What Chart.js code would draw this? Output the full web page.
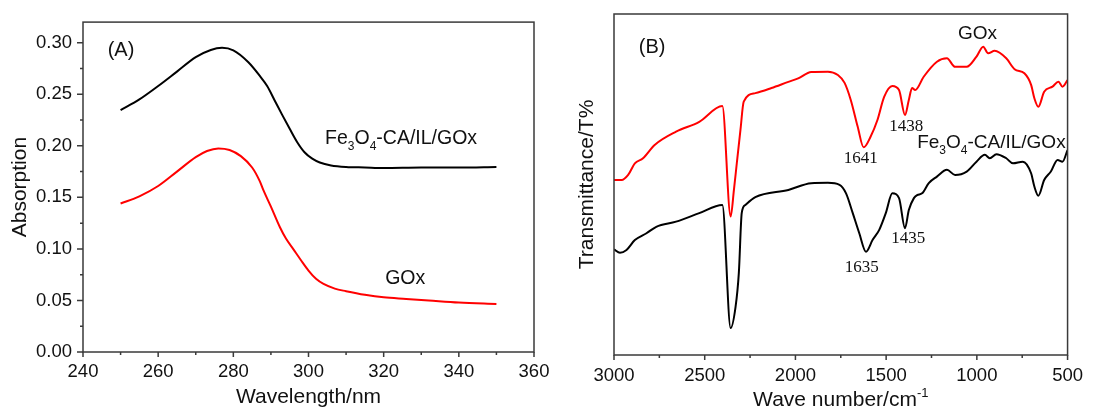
<!DOCTYPE html>
<html><head><meta charset="utf-8">
<script src="https://cdn.jsdelivr.net/npm/chart.js@4.4.1/dist/chart.umd.min.js"></script>
<style>
html,body{margin:0;padding:0;background:#fff;width:1093px;height:410px;overflow:hidden}
#wa{position:absolute;left:0;top:0;width:560px;height:410px}
#wb{position:absolute;left:560px;top:0;width:533px;height:410px}
</style></head><body>
<div id="wa"><canvas id="ca"></canvas></div>
<div id="wb"><canvas id="cb"></canvas></div>
<script>
// ---------- Panel (A): UV-vis ----------
const uvBlackWl  = [250,255,260,265,270,274,277,280,284,287,289,291,293,295,297,299,301,303,306,310,315,320,330,340,350];
const uvBlackAbs = [0.2346,0.245,0.258,0.272,0.286,0.293,0.295,0.2925,0.281,0.268,0.258,0.244,0.230,0.2165,0.2035,0.1935,0.1875,0.1838,0.181,0.1795,0.179,0.1785,0.179,0.179,0.1795];
const uvRedWl    = [250,255,260,265,270,273,276,279,282,285,287,288,290,292.4,294,296,298,300,302,304,307,310,315,320,326,332,340,350];
const uvRedAbs   = [0.144,0.151,0.161,0.175,0.189,0.195,0.1975,0.196,0.190,0.179,0.166,0.157,0.141,0.121,0.110,0.0995,0.089,0.079,0.071,0.066,0.0615,0.059,0.0555,0.053,0.0515,0.050,0.048,0.0466];
const uvXTicks = [240,260,280,300,320,340,360];
const uvXMinor = [250,270,290,310,330,350];
const uvYTicks = [0,0.05,0.10,0.15,0.20,0.25,0.30];
const uvYMinor = [0.025,0.075,0.125,0.175,0.225,0.275];

// ---------- Panel (B): FTIR ----------
const irRedWn = [3000,2958,2922,2885,2840,2776,2658,2530,2403,2357,2339,2323,2303,2285,2221,2132,2039,1985,1913,1821,1766,1729,1695,1657,1624,1586,1548,1511,1466,1429,1396,1375,1357,1340,1293,1220,1165,1120,1056,1002,965,938,902,838,792,738,701,683,661,629,583,550,528,500];
const irRedT  = [51.3,51.3,52.8,56.2,57.7,61.6,65.5,68.4,73.0,40.6,48.4,56.3,66.0,74.3,76.8,78.3,80.1,81.1,83.0,83.1,82.1,79.8,74.8,67.0,60.9,64.0,68.9,75.7,78.9,77.7,70.4,74.8,78.3,77.7,81.6,86.0,87.0,84.5,84.5,87.5,90.4,88.5,89.2,87.0,83.8,82.6,79.2,75.3,72.8,77.2,78.7,80.1,78.7,80.6];
const irBlackWn = [3000,2967,2931,2885,2821,2767,2658,2530,2403,2357,2330,2312,2296,2276,2221,2039,1913,1821,1757,1721,1684,1648,1611,1575,1538,1502,1466,1429,1396,1375,1347,1329,1302,1265,1220,1165,1120,1056,1002,956,929,892,838,801,747,701,683,661,629,592,555,528,500];
const irBlackT  = [31.0,30.0,30.8,33.7,35.7,37.6,39.1,41.6,44.0,7.9,14.1,24.0,41.6,44.0,46.3,48.4,50.4,50.5,49.9,47.4,41.6,35.7,30.3,33.7,36.7,41.6,47.4,46.0,37.2,42.5,46.0,46.9,47.4,50.4,52.3,54.3,52.8,53.8,56.7,58.7,57.7,58.9,57.7,56.2,56.7,53.3,49.4,46.7,51.3,53.8,57.2,56.7,60.1];
const irXTicks = [3000,2500,2000,1500,1000,500];
const irXMinor = [2750,2250,1750,1250,750];

const pts = (xs, ys) => xs.map((x, i) => ({x: x, y: ys[i]}));

const FRAME = '#3a3a3a';
const TXT = '#111';
const SANS = '"Liberation Sans", Arial, sans-serif';
const SERIF = '"Liberation Serif", "Times New Roman", serif';

function drawRich(ctx, parts, x, y, size, align, family) {
  ctx.save();
  ctx.fillStyle = TXT; ctx.textBaseline = 'alphabetic'; ctx.textAlign = 'left';
  const fontFor = p => (p.sub || p.sup ? Math.round(size * 0.62) : size) + 'px ' + (family || SANS);
  let w = 0;
  parts.forEach(p => { ctx.font = fontFor(p); w += ctx.measureText(p.t).width; });
  let cx = align === 'center' ? x - w / 2 : (align === 'right' ? x - w : x);
  parts.forEach(p => {
    ctx.font = fontFor(p);
    const dy = p.sub ? size * 0.3 : (p.sup ? -size * 0.45 : 0);
    ctx.fillText(p.t, cx, y + dy);
    cx += ctx.measureText(p.t).width;
  });
  ctx.restore();
}

const FE = [{t:'Fe'},{t:'3',sub:true},{t:'O'},{t:'4',sub:true},{t:'-CA/IL/GOx'}];

function decor(cfg) {
  return {
    id: 'decor',
    afterDraw(chart) {
      const ctx = chart.ctx, a = chart.chartArea, sx = chart.scales.x, sy = chart.scales.y;
      ctx.save();
      ctx.strokeStyle = FRAME; ctx.lineWidth = 1.5;
      ctx.strokeRect(a.left, a.top, a.right - a.left, a.bottom - a.top);
      ctx.beginPath();
      cfg.xMajor.forEach(v => { const p = sx.getPixelForValue(v); ctx.moveTo(p, a.bottom); ctx.lineTo(p, a.bottom + 5); });
      cfg.xMinor.forEach(v => { const p = sx.getPixelForValue(v); ctx.moveTo(p, a.bottom); ctx.lineTo(p, a.bottom + 3); });
      (cfg.yMajor || []).forEach(v => { const p = sy.getPixelForValue(v); ctx.moveTo(a.left, p); ctx.lineTo(a.left - 6, p); });
      (cfg.yMinor || []).forEach(v => { const p = sy.getPixelForValue(v); ctx.moveTo(a.left, p); ctx.lineTo(a.left - 3, p); });
      ctx.stroke();
      ctx.restore();
      cfg.notes.forEach(n => drawRich(ctx, n.parts, sx.getPixelForValue(n.x), sy.getPixelForValue(n.y), n.size, n.align, n.family));
      if (cfg.xTitle) {
        drawRich(ctx, cfg.xTitle, (a.left + a.right) / 2, cfg.xTitleY, 21, 'center', SANS);
      }
    }
  };
}

const tickFont = {family: SANS, size: 18.5};
const titleFont = {family: SANS, size: 21};

new Chart(document.getElementById('ca'), {
  type: 'line',
  data: {datasets: [
    {data: pts(uvBlackWl, uvBlackAbs), borderColor: '#000', borderWidth: 2, pointRadius: 0, cubicInterpolationMode: 'monotone', fill: false},
    {data: pts(uvRedWl, uvRedAbs), borderColor: '#ff0000', borderWidth: 2, pointRadius: 0, cubicInterpolationMode: 'monotone', fill: false}
  ]},
  options: {
    responsive: true, maintainAspectRatio: false, animation: false,
    layout: {padding: {left: 0, right: 26, top: 15, bottom: 0}},
    plugins: {legend: {display: false}, tooltip: {enabled: false}},
    scales: {
      x: {type: 'linear', min: 240, max: 360,
        grid: {display: false, drawTicks: false}, border: {display: false},
        afterBuildTicks: s => { s.ticks = uvXTicks.map(v => ({value: v})); },
        afterFit: s => { s.height = 58; },
        ticks: {padding: 9, color: TXT, font: tickFont, maxRotation: 0, autoSkip: false, callback: v => String(v)},
        title: {display: true, text: 'Wavelength/nm', color: TXT, font: titleFont, padding: {top: 0, bottom: 0}}},
      y: {type: 'linear', min: 0, max: 0.32,
        grid: {display: false, drawTicks: false}, border: {display: false},
        afterBuildTicks: s => { s.ticks = uvYTicks.map(v => ({value: v})); },
        afterFit: s => { s.width = 83; },
        ticks: {padding: 11, color: TXT, font: tickFont, autoSkip: false, callback: v => Number(v).toFixed(2)},
        title: {display: true, text: 'Absorption', color: TXT, font: titleFont, padding: {top: 8, bottom: 0}}}
    }
  },
  plugins: [decor({
    xMajor: uvXTicks, xMinor: uvXMinor, yMajor: uvYTicks, yMinor: uvYMinor,
    notes: [
      {parts: [{t:'(A)'}], x: 250.1, y: 0.2867, size: 20, align: 'center'},
      {parts: FE, x: 304.4, y: 0.2013, size: 19.5, align: 'left'},
      {parts: [{t:'GOx'}], x: 320.4, y: 0.0655, size: 19.5, align: 'left'}
    ]
  })]
});

new Chart(document.getElementById('cb'), {
  type: 'line',
  data: {datasets: [
    {data: pts(irRedWn, irRedT), borderColor: '#ff0000', borderWidth: 2, pointRadius: 0, cubicInterpolationMode: 'monotone', fill: false},
    {data: pts(irBlackWn, irBlackT), borderColor: '#000', borderWidth: 2, pointRadius: 0, cubicInterpolationMode: 'monotone', fill: false}
  ]},
  options: {
    responsive: true, maintainAspectRatio: false, animation: false,
    layout: {padding: {left: 0, right: 21, top: 14, bottom: 0}},
    plugins: {legend: {display: false}, tooltip: {enabled: false}},
    scales: {
      x: {type: 'linear', min: 500, max: 3000, reverse: true,
        grid: {display: false, drawTicks: false}, border: {display: false},
        afterBuildTicks: s => { s.ticks = irXTicks.map(v => ({value: v})); },
        afterFit: s => { s.height = 55; },
        ticks: {padding: 10, color: TXT, font: tickFont, maxRotation: 0, autoSkip: false, callback: v => String(v)},
        title: {display: false}},
      y: {type: 'linear', min: 0, max: 100,
        grid: {display: false, drawTicks: false}, border: {display: false},
        afterFit: s => { s.width = 54; },
        ticks: {display: false},
        title: {display: true, text: 'Transmittance/T%', color: TXT, font: titleFont, padding: {top: 15, bottom: 0}}}
    }
  },
  plugins: [decor({
    xMajor: irXTicks, xMinor: irXMinor,
    xTitle: [{t:'Wave number/cm'}, {t:'-1', sup:true}], xTitleY: 406,
    notes: [
      {parts: [{t:'(B)'}], x: 2790, y: 88.7, size: 20, align: 'center'},
      {parts: [{t:'GOx'}], x: 996, y: 92.8, size: 19, align: 'center'},
      {parts: [{t:'1641'}], x: 1640, y: 56.2, size: 17, align: 'center', family: SERIF},
      {parts: [{t:'1438'}], x: 1389, y: 65.8, size: 17, align: 'center', family: SERIF},
      {parts: [{t:'1635'}], x: 1635, y: 24.4, size: 17, align: 'center', family: SERIF},
      {parts: [{t:'1435'}], x: 1378, y: 32.9, size: 17, align: 'center', family: SERIF},
      {parts: FE, x: 1329, y: 60.7, size: 19, align: 'left'}
    ]
  })]
});
</script>
</body></html>
